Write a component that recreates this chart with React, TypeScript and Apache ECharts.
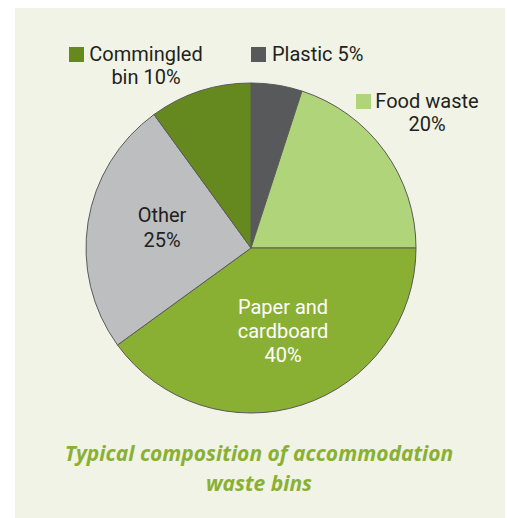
import React, { useEffect, useRef } from "react";
import * as echarts from "echarts";

const categories = ["Plastic", "Food waste", "Paper and cardboard", "Other", "Commingled bin"];
const values = [5, 20, 40, 25, 10];
const colors = ["#58595b", "#b0d47a", "#8ab033", "#bcbec0", "#66891f"];
const title = ["Typical composition of accommodation", "waste bins"];

const FONT = "Roboto, 'Open Sans', sans-serif";
const TITLE_FONT = "'Open Sans', 'Noto Sans', sans-serif";

export default function App() {
  const ref = useRef<HTMLDivElement>(null);
  useEffect(() => {
    document.body.style.margin = "0";
    const chart = echarts.init(ref.current!, null, { renderer: "svg" });
    const pct = (i: number) => `${values[i]}%`;
    const square = (i: number, x: number, y: number) => ({
      type: "rect",
      z: 10,
      shape: { x, y, width: 15, height: 15 },
      style: { fill: colors[i] },
    });
    const txt = (text: string, x: number, y: number, color = "#231f20", align = "center", lh = 23.6) => ({
      type: "text",
      z: 10,
      x,
      y,
      style: {
        text,
        fill: color,
        font: `20px ${FONT}`,
        lineHeight: lh,
        textAlign: align,
        textVerticalAlign: "middle",
      },
    });
    const graphic: any[] = [
      { type: "rect", z: -10, shape: { x: 15, y: 8, width: 490, height: 510 }, style: { fill: "#f0f3e5" } },
      square(4, 69, 47),
      txt(`Commingled\nbin ${pct(4)}`, 146, 65.5),
      square(0, 251, 47),
      txt(`${categories[0]} ${pct(0)}`, 272, 54, "#231f20", "left"),
      square(1, 356, 94),
      txt(`${categories[1]}\n${pct(1)}`, 427, 112.5),
      txt(`${categories[3]}\n${pct(3)}`, 162, 227.5, "#231f20", "center", 25),
      txt(`Paper and\ncardboard\n${pct(2)}`, 283, 331, "#ffffff"),
      {
        type: "text",
        z: 10,
        x: 259,
        y: 468,
        style: {
          text: title.join("\n"),
          fill: "#8ab033",
          font: `italic bold 21px ${TITLE_FONT}`,
          lineHeight: 30,
          textAlign: "center",
          textVerticalAlign: "middle",
        },
      },
    ];
    chart.setOption({
      animation: false,
      graphic,
      series: [
        {
          type: "pie",
          z: 2,
          center: [251, 248],
          radius: 165,
          startAngle: 90,
          clockwise: true,
          label: { show: false },
          labelLine: { show: false },
          emphasis: { disabled: true },
          itemStyle: { borderColor: "#5a5a5a", borderWidth: 1 },
          data: categories.map((name, i) => ({ name, value: values[i], itemStyle: { color: colors[i] } })),
        },
      ],
    });
    return () => chart.dispose();
  }, []);
  return <div ref={ref} style={{ width: 507, height: 518 }} />;
}
